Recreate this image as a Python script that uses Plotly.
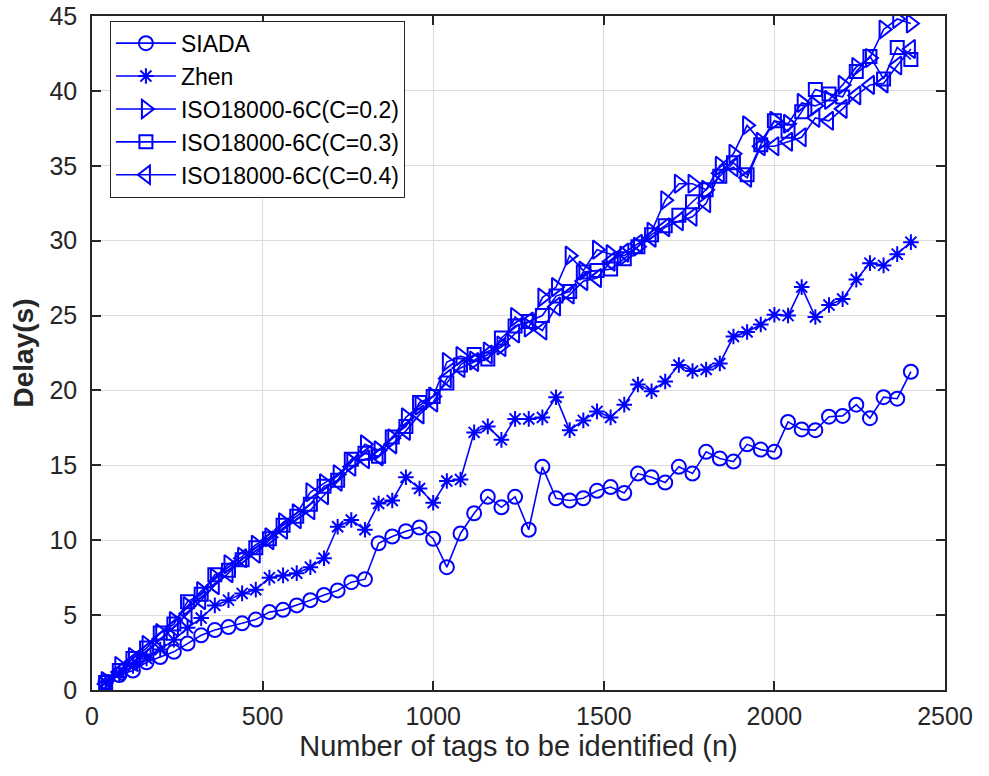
import plotly.graph_objects as go

n_tags = list(range(40, 2401, 40))

siada = [0.55, 1.0, 1.3, 1.85, 2.2, 2.55, 3.1, 3.65, 4.0, 4.2, 4.45, 4.7, 5.2, 5.35, 5.65, 6.0, 6.35, 6.65, 7.2, 7.4,
         9.8, 10.25, 10.6, 10.85, 10.1, 8.2, 10.45, 11.8, 12.9, 12.2, 12.9, 10.7, 14.9, 12.8, 12.65, 12.8, 13.3, 13.55, 13.15, 14.45,
         14.2, 13.85, 14.9, 14.45, 15.9, 15.45, 15.25, 16.4, 16.05, 15.9, 17.9, 17.4, 17.35, 18.25, 18.3, 19.05, 18.15, 19.55, 19.45, 21.25]

zhen = [0.5, 1.1, 1.6, 2.1, 2.7, 3.35, 4.15, 4.8, 5.65, 6.0, 6.45, 6.7, 7.5, 7.65, 7.8, 8.2, 8.8, 10.9, 11.35, 10.7,
        12.45, 12.65, 14.2, 13.45, 12.5, 13.95, 14.05, 17.2, 17.6, 16.7, 18.1, 18.1, 18.2, 19.55, 17.35, 18.0, 18.6, 18.2, 19.05, 20.4,
        19.95, 20.6, 21.7, 21.3, 21.4, 21.8, 23.6, 23.9, 24.4, 25.05, 25.0, 26.9, 24.9, 25.7, 26.1, 27.4, 28.5, 28.35, 29.1, 29.9]

iso_c02 = [0.6, 1.6, 2.2, 3.0, 3.8, 4.6, 5.6, 6.6, 7.5, 8.4, 8.9, 9.7, 10.2, 11.2, 11.8, 13.2, 13.8, 14.4, 15.2, 16.4,
           16.0, 16.8, 18.2, 19.0, 19.6, 21.9, 22.3, 22.0, 22.6, 23.0, 24.9, 24.2, 26.2, 26.9, 29.0, 28.0, 29.4, 29.1, 29.0, 29.6,
           30.6, 32.7, 33.8, 33.8, 33.4, 35.0, 35.8, 37.7, 36.6, 38.0, 37.8, 39.2, 39.0, 39.4, 40.4, 41.6, 42.2, 44.1, 44.8, 44.5]

iso_c03 = [0.5, 1.3, 2.1, 2.8, 3.8, 4.4, 5.9, 6.4, 7.7, 8.0, 8.7, 9.5, 10.1, 11.0, 11.6, 12.4, 13.6, 14.0, 15.4, 15.8,
           15.6, 16.9, 17.6, 19.2, 19.6, 20.5, 21.7, 22.4, 22.1, 23.5, 24.3, 24.6, 25.0, 26.3, 26.6, 27.9, 28.0, 28.1, 28.8, 29.6,
           30.4, 31.0, 31.7, 32.6, 33.4, 34.3, 35.2, 34.4, 36.4, 38.0, 37.3, 38.6, 40.1, 39.8, 39.6, 41.3, 42.3, 40.8, 42.9, 42.1]

iso_c04 = [0.4, 1.2, 1.9, 2.6, 3.4, 4.2, 5.1, 6.0, 7.0, 7.8, 8.8, 9.1, 10.0, 10.7, 11.4, 12.0, 13.0, 13.9, 14.9, 15.4,
           15.6, 16.4, 17.3, 18.4, 19.2, 20.8, 21.5, 21.9, 22.4, 22.9, 23.8, 24.6, 24.0, 25.6, 26.4, 27.3, 27.5, 28.6, 29.2, 29.8,
           30.2, 30.9, 31.3, 31.6, 32.5, 34.5, 34.9, 34.2, 36.3, 36.3, 36.6, 36.9, 38.2, 38.0, 38.8, 39.7, 40.4, 40.5, 41.7, 42.8]

series_names = ["SIADA", "Zhen", "ISO18000-6C(C=0.2)", "ISO18000-6C(C=0.3)", "ISO18000-6C(C=0.4)"]
series_values = [siada, zhen, iso_c02, iso_c03, iso_c04]
symbols = ["circle-open", "asterisk-open", "triangle-right-open", "square-open", "triangle-left-open"]
sizes = [14, 13, 16, 13, 16]

x_ticks = [0, 500, 1000, 1500, 2000, 2500]
y_ticks = list(range(0, 46, 5))

BLUE = "#0000FF"
FONT = "Liberation Sans, Arial, sans-serif"
fig = go.Figure()
for name, vals, sym, sz in zip(series_names, series_values, symbols, sizes):
    fig.add_trace(go.Scatter(
        x=n_tags, y=vals, name=name, mode="lines+markers",
        line=dict(color=BLUE, width=1.6),
        marker=dict(symbol=sym, size=sz, color=BLUE, line=dict(color=BLUE, width=2)),
    ))

axis_common = dict(
    showline=True, linecolor="#262626", linewidth=1.5, mirror="allticks",
    ticks="inside", ticklen=9, tickwidth=1.5, tickcolor="#262626",
    showgrid=True, gridcolor="#DCDCDC", gridwidth=1.2, zeroline=False, automargin=False,
    tickfont=dict(family=FONT, size=25, color="#262626"),
)

fig.update_layout(
    width=989, height=776,
    margin=dict(l=92, r=44, t=16, b=86),
    paper_bgcolor="white", plot_bgcolor="white",
    font=dict(family=FONT, color="#262626"),
    xaxis=dict(range=[0, 2500], tickvals=x_ticks, ticktext=[str(v) for v in x_ticks],
               ticklabelstandoff=3,
               title=dict(text="Number of tags to be identified (n)", font=dict(size=29), standoff=6),
               **axis_common),
    yaxis=dict(range=[0, 45], tickvals=y_ticks, ticktext=[str(v) for v in y_ticks],
               ticklabelstandoff=8,
               title=dict(text="<b>Delay(s)</b>", font=dict(size=28), standoff=8),
               **axis_common),
    legend=dict(x=0.021, y=0.993, xanchor="left", yanchor="top",
                bgcolor="white", bordercolor="#262626", borderwidth=1,
                font=dict(family=FONT, size=23, color="black"),
                itemwidth=60, tracegroupgap=0),
    showlegend=True,
)

fig.write_html("out.html", config={"displayModeBar": False},
               post_script="document.body.style.margin='0';document.body.style.padding='0';")
